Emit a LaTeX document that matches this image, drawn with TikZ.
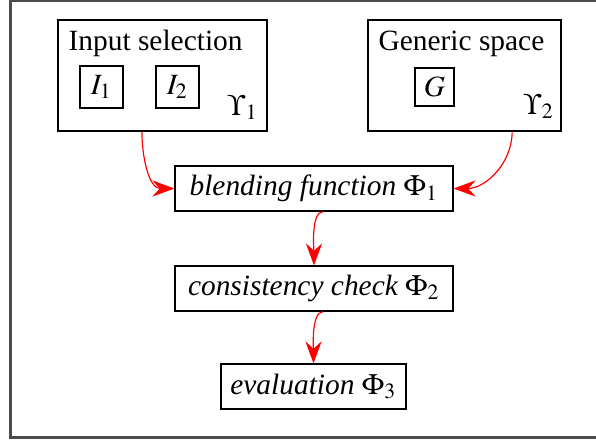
\documentclass[tikz,border=0pt]{standalone}
\usepackage{mathptmx}
\usepackage{fontspec}
\setmainfont{Liberation Serif}
\usetikzlibrary{arrows.meta}

\begin{document}
\begin{tikzpicture}[x=0.34pt,y=-0.34pt,
  stage/.style={draw=black,line width=0.4pt,minimum height=15.3pt,inner sep=0pt,font=\itshape},
  space/.style={draw=black,line width=0.4pt,minimum height=37.7pt,inner sep=0pt},
  elem/.style={draw=black,line width=0.7pt,inner sep=0pt},
  flow/.style={draw=red,line width=0.4pt,-{Stealth[length=7.5pt,width=5.5pt,inset=2.5pt]}}]

\useasboundingbox (0,0) rectangle (596,442);
\draw[draw=black!70,line width=0.7pt] (10.5,0.5) rectangle (620,437.5);

\node[space,minimum width=71.1pt] (input) at (162.5,75.5) {};
\node[space,minimum width=65.6pt] (generic) at (464.5,75.5) {};
\node[anchor=base west,inner sep=0pt] (inputlabel) at (68,50) {Input selection};
\node[anchor=base west,inner sep=0pt] (genericlabel) at (378,50) {Generic space};

\node[elem,minimum width=14.6pt,minimum height=14.3pt] (i1) at (101.5,87) {$I_1$};
\node[elem,minimum width=14.6pt,minimum height=14.3pt] (i2) at (177.5,87) {$I_2$};
\node[elem,minimum width=13.3pt,minimum height=12.9pt] (g) at (434.5,87) {$G$};
\node[anchor=base west,inner sep=0pt] (ups1) at (227,115) {$\Upsilon_1$};
\node[anchor=base west,inner sep=0pt] (ups2) at (523,114) {$\Upsilon_2$};

\node[stage,minimum width=94.5pt] (blend) at (314,188.5) {blending function $\Phi_1$};
\node[stage,minimum width=94.5pt] (check) at (314,288.5) {consistency check $\Phi_2$};
\node[stage,minimum width=62.9pt] (eval) at (313.5,386.5) {evaluation $\Phi_3$};

\draw[flow] ([xshift=-7pt]input.south) to[out=-90,in=180] (blend.west);
\draw[flow] ([xshift=16.2pt]generic.south) to[out=-90,in=0] (blend.east);
\draw[flow] ([xshift=3.1pt]blend.south) to[out=180,in=90,looseness=0.6] (check.north);
\draw[flow] ([xshift=3.1pt]check.south) to[out=180,in=90,looseness=0.6] (eval.north);
\end{tikzpicture}
\end{document}
